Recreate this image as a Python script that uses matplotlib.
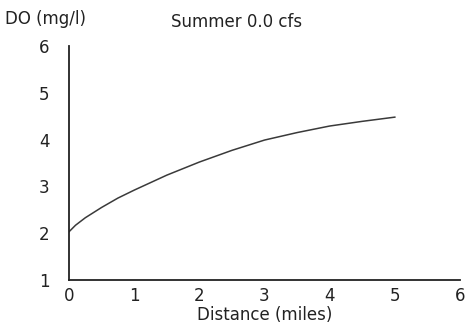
import matplotlib
matplotlib.use("Agg")
import matplotlib.pyplot as plt

distance = [0, 0.1, 0.25, 0.5, 0.75, 1.0, 1.5, 2.0, 2.5, 3.0, 3.5, 4.0, 4.5, 5.0]
do_mgl = [2.03, 2.17, 2.33, 2.55, 2.75, 2.92, 3.24, 3.52, 3.77, 3.99, 4.15, 4.29, 4.39, 4.48]
xticks = [0, 1, 2, 3, 4, 5, 6]
yticks = [1, 2, 3, 4, 5, 6]

plt.rcParams['font.family'] = ['DejaVu Sans']
fig = plt.figure(figsize=(4.7, 3.32), dpi=100)
ax = fig.add_axes([69/470, 52/332, (460-69)/470, (280-46)/332])
ax.plot(distance, do_mgl, color='#3a3a3a', lw=1.1)
ax.set_xlim(0, 6)
ax.set_ylim(1, 6)
ax.set_xticks(xticks)
ax.set_yticks(yticks)
for s in ['top', 'right']:
    ax.spines[s].set_visible(False)
for s in ['left', 'bottom']:
    ax.spines[s].set_color('#222222')
    ax.spines[s].set_linewidth(1.3)
ax.tick_params(axis='both', length=0, labelsize=12, colors='#222222')
ax.tick_params(axis='y', pad=14)
ax.tick_params(axis='x', pad=5)
ax.set_xlabel('Distance (miles)', fontsize=12, color='#222222', labelpad=0.5)
fig.text(5/470, 1 - 19/332, 'DO (mg/l)', fontsize=12, color='#222222', va='center', ha='left')
fig.text(237/470, 1 - 22/332, 'Summer 0.0 cfs', fontsize=12, color='#222222', va='center', ha='center')
fig.savefig('out.png', dpi=100)
